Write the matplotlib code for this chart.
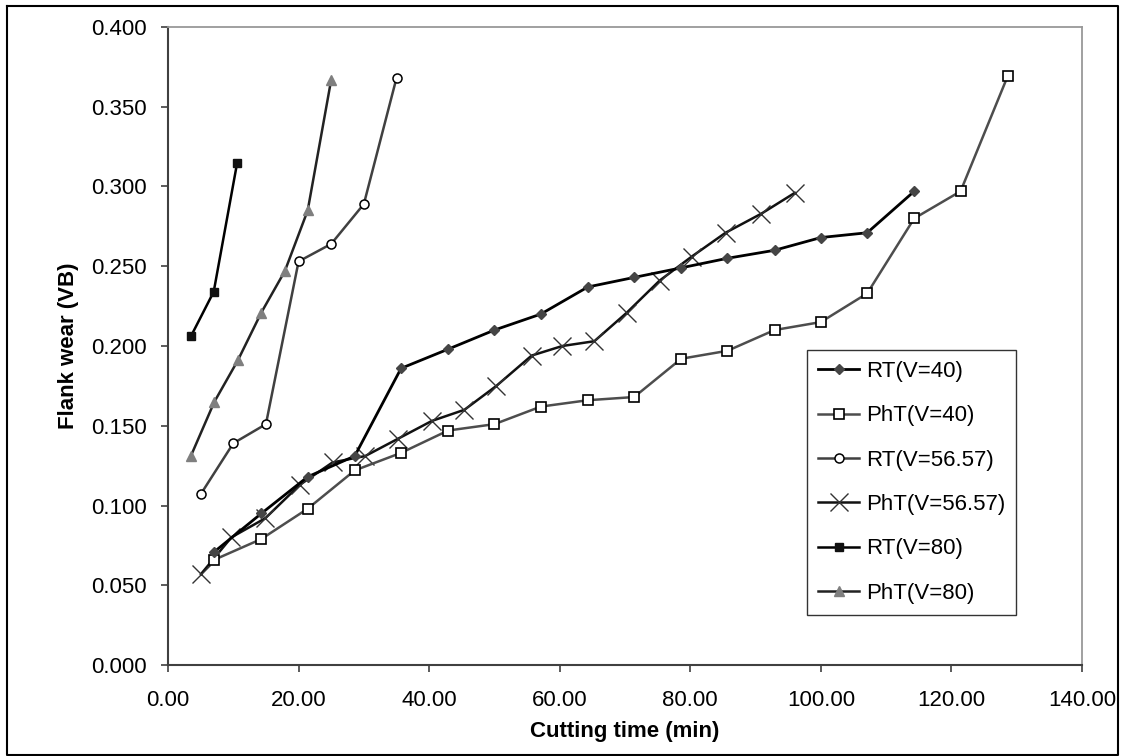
import matplotlib
matplotlib.use("Agg")
import matplotlib.pyplot as plt
from matplotlib.lines import Line2D
from matplotlib.ticker import FormatStrFormatter, MultipleLocator

plt.rcParams['font.family'] = ['Liberation Sans', 'DejaVu Sans']

# ---- data ----
rt40_x = [7.1, 14.3, 21.4, 28.6, 35.7, 42.9, 50.0, 57.1, 64.3, 71.4, 78.6, 85.7, 92.9, 100.0, 107.1, 114.3]
rt40_y = [0.071, 0.095, 0.118, 0.131, 0.186, 0.198, 0.210, 0.220, 0.237, 0.243, 0.249, 0.255, 0.260, 0.268, 0.271, 0.297]

pht40_x = [7.1, 14.3, 21.4, 28.6, 35.7, 42.9, 50.0, 57.1, 64.3, 71.4, 78.6, 85.7, 92.9, 100.0, 107.1, 114.3, 121.4, 128.6]
pht40_y = [0.066, 0.079, 0.098, 0.122, 0.133, 0.147, 0.151, 0.162, 0.166, 0.168, 0.192, 0.197, 0.210, 0.215, 0.233, 0.280, 0.297, 0.369]

rt56_x = [5.0, 10.0, 15.0, 20.0, 25.0, 30.0, 35.0]
rt56_y = [0.107, 0.139, 0.151, 0.253, 0.264, 0.289, 0.368]

pht56_x = [5.05, 9.7, 14.9, 20.2, 25.2, 30.2, 35.3, 40.4, 45.4, 50.3, 55.7, 60.4, 65.3, 70.3, 75.3, 80.2, 85.4, 90.9, 96.0]
pht56_y = [0.057, 0.080, 0.092, 0.113, 0.127, 0.131, 0.142, 0.153, 0.160, 0.175, 0.194, 0.200, 0.203, 0.221, 0.241, 0.256, 0.271, 0.283, 0.296]

rt80_x = [3.5, 7.0, 10.6]
rt80_y = [0.206, 0.234, 0.315]

pht80_x = [3.5, 7.1, 10.7, 14.3, 17.9, 21.4, 25.0]
pht80_y = [0.131, 0.165, 0.191, 0.221, 0.247, 0.285, 0.367]

labels = ["RT(V=40)", "PhT(V=40)", "RT(V=56.57)", "PhT(V=56.57)", "RT(V=80)", "PhT(V=80)"]

# ---- figure ----
W, H = 1125, 756
fig = plt.figure(figsize=(W / 100, H / 100), dpi=100)
ax = fig.add_axes([168 / W, 1 - 665 / H, (1082 - 168) / W, (665 - 27) / H])

ax.plot(rt40_x, rt40_y, color='#000000', lw=2.0, marker='D', ms=5.5,
        mfc='#454545', mec='#454545', label=labels[0], zorder=5)
ax.plot(pht40_x, pht40_y, color='#4d4d4d', lw=1.8, marker='s', ms=6.5,
        mfc='white', mec='black', mew=1.2, label=labels[1], zorder=4)
ax.plot(rt56_x, rt56_y, color='#404040', lw=1.8, marker='o', ms=6.5,
        mfc='white', mec='black', mew=1.1, label=labels[2], zorder=4)
ax.plot(pht56_x, pht56_y, color='#111111', lw=1.8, marker='x', ms=13,
        mec='#333333', mew=1.0, label=labels[3], zorder=3)
ax.plot(rt80_x, rt80_y, color='#000000', lw=1.8, marker='s', ms=6,
        mfc='#111111', mec='#111111', label=labels[4], zorder=4)
ax.plot(pht80_x, pht80_y, color='#222222', lw=1.8, marker='^', ms=6.5,
        mfc='#7f7f7f', mec='#7f7f7f', label=labels[5], zorder=4)

ax.set_xlim(0, 140)
ax.set_ylim(0, 0.4)
ax.xaxis.set_major_locator(MultipleLocator(20))
ax.yaxis.set_major_locator(MultipleLocator(0.05))
ax.xaxis.set_major_formatter(FormatStrFormatter('%.2f'))
ax.yaxis.set_major_formatter(FormatStrFormatter('%.3f'))
ax.tick_params(axis='both', labelsize=16, direction='out', length=5, width=1.2,
               color='#404040')
ax.tick_params(axis='y', pad=10)
ax.tick_params(axis='x', pad=13)

for s in ['left', 'bottom']:
    ax.spines[s].set_color('#404040')
    ax.spines[s].set_linewidth(1.5)
for s in ['top', 'right']:
    ax.spines[s].set_color('#999999')
    ax.spines[s].set_linewidth(1.3)

ax.set_xlabel('Cutting time (min)', fontsize=16, fontweight='bold', labelpad=7)
ax.set_ylabel('Flank wear (VB)', fontsize=16, fontweight='bold', labelpad=9)

leg = ax.legend(loc='upper left', bbox_to_anchor=(807 / W, 1 - 350 / H),
                bbox_transform=fig.transFigure, fontsize=16, frameon=True,
                fancybox=False, edgecolor='black', borderaxespad=0,
                handlelength=1.85, handletextpad=0.3, labelspacing=1.05,
                borderpad=0.5)
leg.get_frame().set_linewidth(1.0)

# outer figure border
border = Line2D([7 / W, 1118 / W, 1118 / W, 7 / W, 7 / W],
                [1 - 6 / H, 1 - 6 / H, 1 - 755 / H, 1 - 755 / H, 1 - 6 / H],
                transform=fig.transFigure, color='black', lw=1.5)
fig.add_artist(border)

fig.savefig('out.png', dpi=100)
